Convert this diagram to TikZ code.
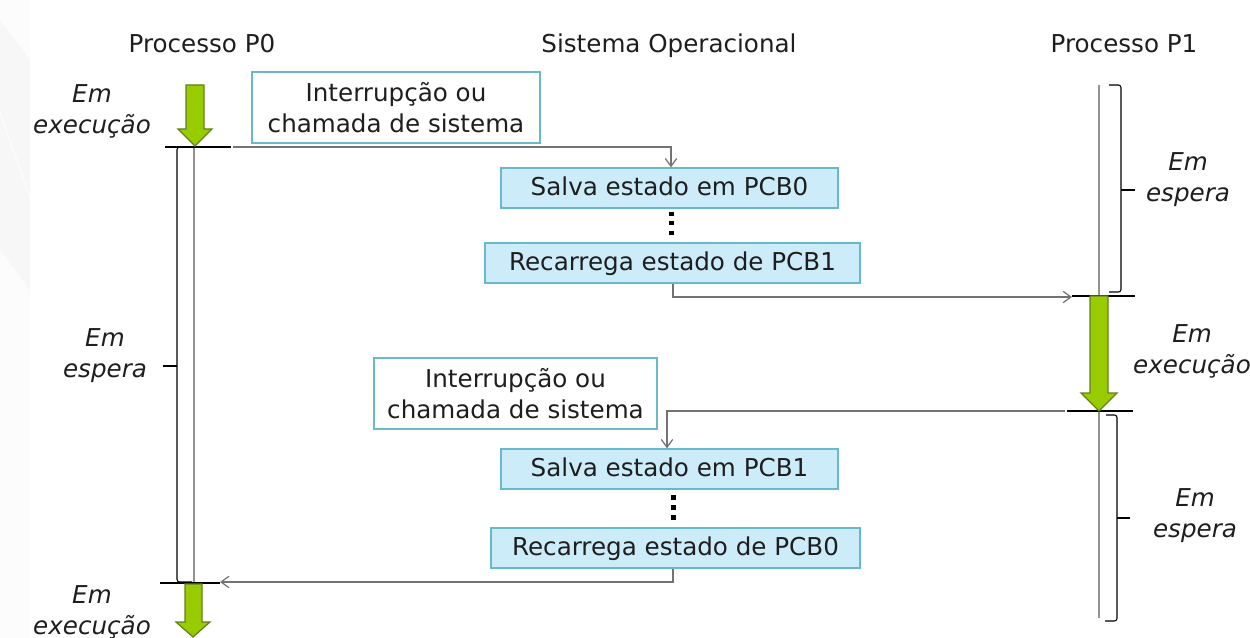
\documentclass[tikz,border=0pt]{standalone}
\usepackage{fontspec}
\setmainfont{DejaVu Sans}
\usetikzlibrary{arrows.meta}

\definecolor{boxline}{RGB}{105,185,205}
\definecolor{boxfill}{RGB}{204,236,250}
\definecolor{rungreen}{RGB}{153,204,0}
\definecolor{runline}{RGB}{96,130,30}
\definecolor{wireline}{RGB}{115,115,115}
\definecolor{inktext}{RGB}{30,30,30}

\tikzset{
    titlelabel/.style={text=inktext,text height=0.9em,text depth=0pt,font=\fontsize{14}{17}\selectfont},
    statelabel/.style={text=inktext,align=center,font=\fontsize{14}{17.6}\selectfont\itshape},
    notebox/.style={draw=boxline,fill=white,line width=0.7pt,align=center,text=inktext,font=\fontsize{14}{17.6}\selectfont},
    savebox/.style={draw=boxline,fill=boxfill,line width=0.7pt,text=inktext,minimum height=0.8cm,inner sep=0pt,text height=0.9em,text depth=0pt,font=\fontsize{14}{17}\selectfont},
    runarrow/.style={fill=rungreen,draw=runline,line width=0.7pt},
    wire/.style={wireline,line width=0.7pt},
    timeline/.style={draw=gray!85,line width=1pt},
    bracket/.style={black,line width=0.6pt,rounded corners=1.5pt}
}

\begin{document}
\begin{tikzpicture}[x=0.02cm,y=-0.02cm,>={Straight Barb[length=4.5pt,width=6.5pt]}]
    \useasboundingbox (0,0) rectangle (1250,638);
    % faint backdrop at the left edge
    \fill[gray!2] (0,0) rectangle (30,638);
    \fill[gray!6] (0,20) -- (30,60) -- (30,195) -- (0,110) -- cycle;
    \fill[gray!6] (0,115) -- (30,200) -- (30,290) -- (0,250) -- cycle;

    % column titles
    \node[titlelabel] (titleP0) at (202,45) {Processo P0};
    \node[titlelabel] (titleSO) at (669,45) {Sistema Operacional};
    \node[titlelabel] (titleP1) at (1124,45) {Processo P1};

    % boxes
    \node[notebox,minimum width=5.76cm,minimum height=1.42cm] (noteA) at (396,107.5) {Interrupção ou\\chamada de sistema};
    \node[savebox,minimum width=6.74cm] (saveA) at (669.5,188) {Salva estado em PCB0};
    \node[savebox,minimum width=7.5cm] (loadA) at (672.5,263) {Recarrega estado de PCB1};
    \node[notebox,minimum width=5.66cm,minimum height=1.42cm] (noteB) at (515.5,393.5) {Interrupção ou\\chamada de sistema};
    \node[savebox,minimum width=6.74cm] (saveB) at (669.5,469) {Salva estado em PCB1};
    \node[savebox,minimum width=7.38cm] (loadB) at (675.5,548) {Recarrega estado de PCB0};

    % state labels
    \node[statelabel] (runA) at (92,111) {Em\\execução};
    \node[statelabel] (waitA) at (105,356) {Em\\espera};
    \node[statelabel] (runB) at (92,612) {Em\\execução};
    \node[statelabel] (waitB) at (1188,180) {Em\\espera};
    \node[statelabel] (runC) at (1192,351) {Em\\execução};
    \node[statelabel] (waitC) at (1195,516) {Em\\espera};

    % brackets
    \draw[bracket] (192,147) -- (177,147) -- (177,582) -- (192,582);
    \draw[bracket] (177,366) -- (163,366);
    \draw[bracket] (1109,85) -- (1121,85) -- (1121,292) -- (1109,292);
    \draw[bracket] (1121,190) -- (1135,190);
    \draw[bracket] (1106,415) -- (1117,415) -- (1117,621) -- (1105,621);
    \draw[bracket] (1117,518) -- (1130,518);

    % lifelines
    \draw[timeline] (194,147) -- (194,584);
    \draw[timeline] (1099,85) -- (1099,296);
    \draw[timeline] (1099,411) -- (1099,618);

    % horizontal marks
    \coordinate (markA) at (233,147);
    \coordinate (markB) at (1072,297);
    \coordinate (markC) at (1065,411);
    \coordinate (markD) at (220,582);
    \draw[bracket] (165,147) -- (231,147);
    \draw[bracket] (1072,296) -- (1135,296);
    \draw[bracket] (1067,411) -- (1133,411);
    \draw[bracket] (160,583) -- (220,583);

    % green arrows
    \draw[runarrow] (186,85) -- (204,85) -- (204,129) -- (212,129) -- (195,146) -- (178,129) -- (186,129) -- cycle;
    \draw[runarrow] (1090,296) -- (1108,296) -- (1108,393) -- (1117,393) -- (1099,411) -- (1081,393) -- (1090,393) -- cycle;
    \draw[runarrow] (185,584) -- (202,584) -- (202,622) -- (210,622) -- (193,637) -- (176,622) -- (185,622) -- cycle;

    % dots
    \foreach \y in {212,221,231}
        \fill (669,\y) rectangle (673.5,\y+4.5);
    \foreach \y in {495,505,515}
        \fill (671,\y) rectangle (675.5,\y+4.5);

    % connectors
    \draw[wire,->] (markA) -| (saveA.north -| 671,147);
    \draw[wire,->] (loadA.south -| 673,283) |- (markB);
    \draw[wire,->] (markC) -| (saveB.north -| 667,411);
    \draw[wire,->] (loadB.south -| 673,568) |- (markD);
\end{tikzpicture}
\end{document}
